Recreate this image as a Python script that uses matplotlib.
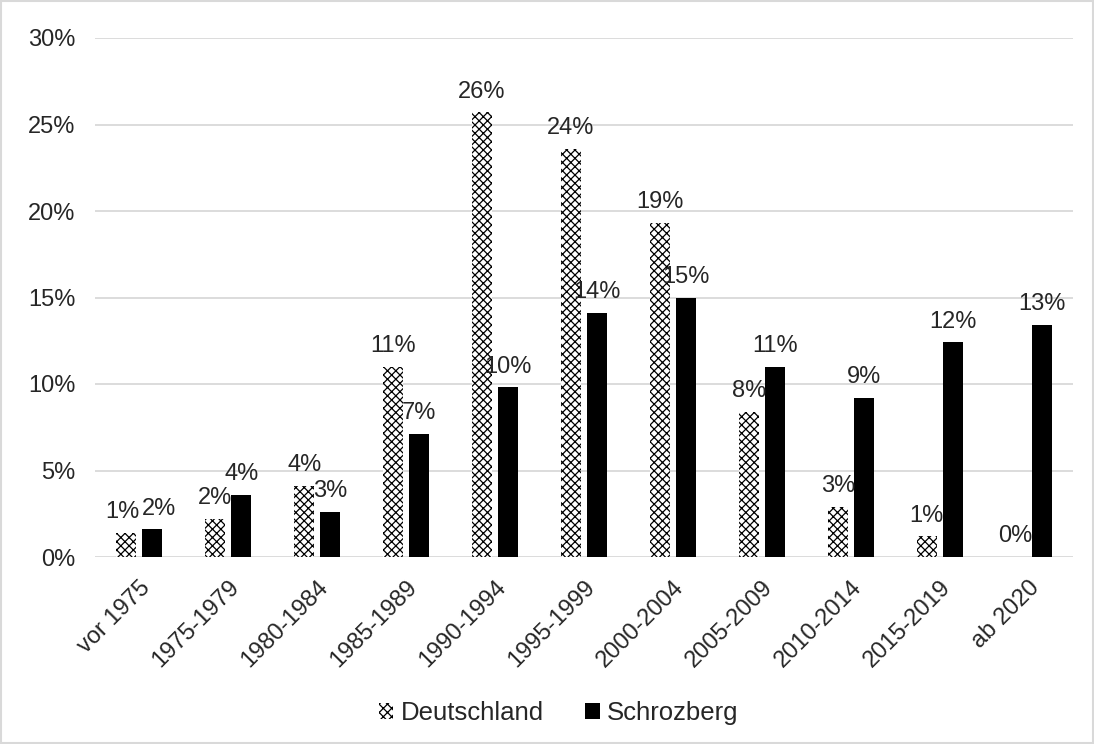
import matplotlib.pyplot as plt
import matplotlib as mpl
import matplotlib.transforms as mtransforms
import numpy as np
from matplotlib.patches import Rectangle

mpl.rcParams['font.family'] = ['Liberation Sans', 'DejaVu Sans']
mpl.rcParams['hatch.linewidth'] = 0.9

categories = ['vor 1975', '1975-1979', '1980-1984', '1985-1989', '1990-1994',
              '1995-1999', '2000-2004', '2005-2009', '2010-2014', '2015-2019', 'ab 2020']
deutschland = [1.4, 2.2, 4.1, 11.0, 25.7, 23.6, 19.3, 8.4, 2.9, 1.2, 0.0]
schrozberg = [1.6, 3.6, 2.6, 7.1, 9.8, 14.1, 15.0, 11.0, 9.2, 12.4, 13.4]
yticks = [0, 5, 10, 15, 20, 25, 30]

fs = 17
txt = '#262626'

fig = plt.figure(figsize=(10.94, 7.44), dpi=100)
# plot area: x 95..1073 px, y 38..557 px
ax = fig.add_axes([95 / 1094, 1 - 557 / 744, 978 / 1094, 519 / 744])

x = np.arange(len(categories))
w = 0.225
off = 0.146

b1 = ax.bar(x - off, deutschland, w, color='white', edgecolor='black', linewidth=0,
            hatch='xxxx', label='Deutschland', zorder=3)
b2 = ax.bar(x + off, schrozberg, w, color='black', label='Schrozberg', zorder=3)

# Excel pushes apart labels that would collide (first group)
nudge = {(0, 0): -3, (1, 0): 5}
for k, (bars, vals) in enumerate([(b1, deutschland), (b2, schrozberg)]):
    for i, (r, v) in enumerate(zip(bars, vals)):
        ax.annotate(f'{v:.0f}%', (r.get_x() + r.get_width() / 2, v),
                    xytext=(nudge.get((k, i), 0), 7), textcoords='offset points',
                    ha='center', va='bottom', fontsize=fs, color=txt)

ax.set_xlim(-0.5, len(categories) - 0.5)
ax.set_ylim(0, 30)
ax.set_yticks(yticks)
ax.set_yticklabels([f'{t}%' for t in yticks], fontsize=fs, color=txt)
ax.set_xticks(x)
ax.set_xticklabels(categories, rotation=45, ha='right', va='top', rotation_mode='anchor',
                   fontsize=fs, color=txt)
shift = mtransforms.ScaledTranslation(-4 / 72, 0, fig.dpi_scale_trans)
for lab in ax.get_xticklabels():
    lab.set_transform(lab.get_transform() + shift)
ax.tick_params(length=0)
ax.tick_params(axis='x', pad=14)
ax.tick_params(axis='y', pad=14)
ax.grid(axis='y', color='#d9d9d9', linewidth=1.3, zorder=0)
for s in ax.spines.values():
    s.set_visible(False)

leg = fig.legend(loc='center', bbox_to_anchor=(0.511, 1 - 713 / 744), ncol=2,
                 frameon=False, fontsize=18.5, handlelength=0.55, handleheight=0.55,
                 handletextpad=0.3, columnspacing=1.6)
for t in leg.get_texts():
    t.set_color(txt)

fig.patches.append(Rectangle((0.001, 0.001), 0.998, 0.998, transform=fig.transFigure,
                             fill=False, edgecolor='#d9d9d9', linewidth=1.5))

fig.savefig('out.png', dpi=100)
